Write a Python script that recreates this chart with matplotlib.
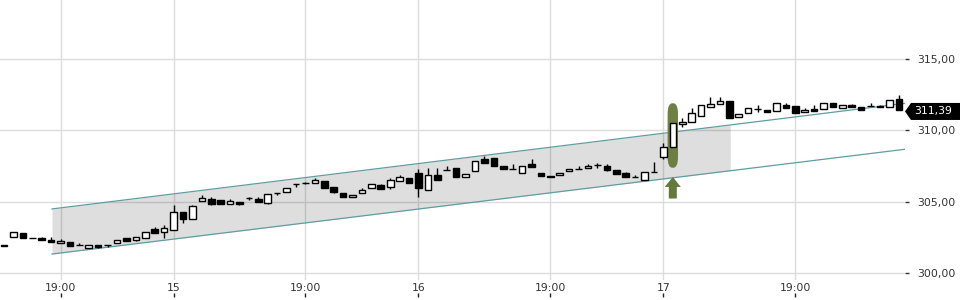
import matplotlib
matplotlib.use("Agg")
import matplotlib.pyplot as plt
from matplotlib.patches import Polygon, FancyBboxPatch, FancyArrow
from matplotlib.transforms import IdentityTransform
import numpy as np

# OHLC (one candle per slot)
opens = [301.96, 302.52, 302.78, 302.44, 302.47, 302.31, 302.08, 302.15, 301.97, 301.77,
         301.96, 301.94, 302.08, 302.43, 302.33, 302.43, 303.06, 302.89, 302.99, 304.30,
         303.81, 305.07, 305.21, 305.14, 304.86, 304.98, 305.24, 305.16, 304.93, 305.59,
         305.66, 306.24, 306.29, 306.29, 306.45, 306.05, 305.59, 305.31, 305.59, 305.94,
         306.15, 306.01, 306.43, 306.64, 306.99, 305.80, 306.87, 307.22, 307.34, 306.73,
         307.13, 307.99, 308.04, 307.52, 307.29, 306.99, 307.64, 307.01, 306.82, 306.85,
         307.13, 307.31, 307.34, 307.55, 307.50, 307.20, 307.03, 306.75, 306.52, 307.06,
         308.15, 308.81, 310.44, 310.60, 310.98, 311.61, 311.82, 312.03, 310.91, 311.19,
         311.52, 311.40, 311.37, 311.79, 311.68, 311.26, 311.49, 311.49, 311.89, 311.58,
         311.75, 311.63, 311.71, 311.72, 311.61, 312.19]
closes = [301.86, 302.87, 302.43, 302.42, 302.33, 302.19, 302.24, 301.91, 301.96, 301.94,
          301.80, 301.93, 302.29, 302.26, 302.50, 302.85, 302.82, 303.17, 304.30, 303.81,
          304.70, 305.28, 304.81, 304.84, 305.07, 304.86, 305.23, 304.95, 305.52, 305.58,
          305.98, 306.23, 306.28, 306.52, 305.94, 305.70, 305.31, 305.45, 305.80, 306.22,
          305.87, 306.50, 306.71, 306.29, 305.94, 306.85, 306.50, 307.21, 306.75, 306.92,
          307.83, 307.69, 307.52, 307.29, 307.28, 307.48, 307.41, 306.78, 306.71, 307.01,
          307.31, 307.30, 307.50, 307.54, 307.20, 306.96, 306.73, 306.74, 307.06, 307.05,
          308.85, 310.49, 310.58, 311.19, 311.77, 311.82, 312.03, 310.88, 311.14, 311.54,
          311.51, 311.30, 311.89, 311.58, 311.23, 311.40, 311.37, 311.93, 311.61, 311.77,
          311.65, 311.44, 311.70, 311.63, 312.12, 311.39]
highs = [301.96, 302.87, 302.78, 302.44, 302.52, 302.52, 302.38, 302.15, 302.10, 301.94,
         301.96, 301.94, 302.29, 302.43, 302.50, 302.85, 303.20, 303.36, 304.77, 304.30,
         304.77, 305.47, 305.30, 305.14, 305.16, 304.98, 305.35, 305.30, 305.52, 305.63,
         305.98, 306.24, 306.40, 306.64, 306.45, 306.05, 305.59, 305.45, 305.94, 306.22,
         306.26, 306.64, 306.87, 306.64, 307.27, 307.34, 307.34, 307.48, 307.34, 306.92,
         307.83, 308.20, 308.04, 307.52, 307.64, 307.48, 307.97, 307.01, 306.82, 307.01,
         307.31, 307.50, 307.62, 307.73, 307.62, 307.20, 307.10, 306.87, 307.06, 307.81,
         309.13, 310.49, 310.88, 311.54, 311.77, 312.31, 312.35, 312.03, 311.14, 311.54,
         311.77, 311.40, 311.89, 311.89, 311.68, 311.56, 311.79, 311.93, 311.89, 311.77,
         311.82, 311.63, 311.93, 311.77, 312.12, 312.45]
lows = [301.86, 302.52, 302.43, 302.42, 302.30, 302.19, 302.08, 301.91, 301.96, 301.77,
        301.72, 301.80, 302.08, 302.26, 302.24, 302.43, 302.82, 302.47, 302.99, 303.52,
        303.81, 305.07, 304.74, 304.84, 304.86, 304.79, 305.12, 304.95, 304.84, 305.47,
        305.66, 306.05, 306.24, 306.29, 305.94, 305.63, 305.31, 305.31, 305.59, 305.94,
        305.87, 305.89, 306.43, 306.29, 305.35, 305.80, 306.50, 307.21, 306.75, 306.73,
        307.13, 307.69, 307.52, 307.29, 307.28, 306.99, 307.41, 306.78, 306.71, 306.85,
        307.13, 307.30, 307.34, 307.34, 307.13, 306.96, 306.73, 306.74, 306.52, 307.05,
        307.97, 308.81, 310.21, 310.60, 310.98, 311.61, 311.82, 310.88, 310.91, 311.19,
        311.30, 311.30, 311.37, 311.58, 311.23, 311.26, 311.37, 311.49, 311.61, 311.58,
        311.65, 311.44, 311.70, 311.63, 311.61, 311.39]

tick_pos = [6, 18, 32, 44, 58, 70, 84]
tick_labels = ["19:00", "15", "19:00", "16", "19:00", "17", "19:00"]
price_ticks = [300, 305, 310, 315]

# trend channel
chan_x = [5.1, 95.65]
chan_upper = [304.49, 311.89]
chan_lower = [301.33, 308.67]
fill_end = 77.1

# signal marker
signal_idx = 71
signal_top = 311.77
signal_bottom = 307.50
arrow_tip = 306.73
arrow_base = 305.22

last_close = closes[-1]

fig = plt.figure(figsize=(9.6, 3.0), dpi=100)
ax = fig.add_axes([0, 20 / 300, 905 / 960, 280 / 300])
ax.set_xlim(-0.425, 95.65)
ax.set_ylim(299.51, 319.13)
for s in ax.spines.values():
    s.set_visible(False)
ax.grid(True, color="#dcdcdc", linewidth=1)
ax.set_axisbelow(True)

ax.set_xticks(tick_pos)
ax.set_xticklabels(tick_labels)
ax.tick_params(axis="x", length=0, pad=2, labelsize=7.8, labelcolor="#333333")
ax.set_yticks(price_ticks)
ax.set_yticklabels([f"{p:.2f}".replace(".", ",") for p in price_ticks])
ax.yaxis.tick_right()
ax.tick_params(axis="y", length=3, width=1, color="#333333", pad=6,
               labelsize=7.8, labelcolor="#333333")

sec = ax.secondary_xaxis(-17 / 280)
sec.set_xticks(tick_pos)
sec.tick_params(axis="x", direction="in", length=3, width=1, color="#222222", labelbottom=False)
sec.spines["bottom"].set_visible(False)

# channel
fx = np.linspace(chan_x[0], fill_end, 50)
ax.fill_between(fx, np.interp(fx, chan_x, chan_lower), np.interp(fx, chan_x, chan_upper),
                color="k", alpha=0.13, linewidth=0, zorder=1)
ax.plot(chan_x, chan_upper, color="#5e9ea3", linewidth=0.9, zorder=2)
ax.plot(chan_x, chan_lower, color="#5e9ea3", linewidth=0.9, zorder=2)

# signal highlight + arrow
hl = FancyBboxPatch((signal_idx - 0.3, signal_bottom + 0.25), 0.6, signal_top - signal_bottom - 0.5,
                    boxstyle="round,pad=0.25,rounding_size=0.5", mutation_aspect=1.5,
                    facecolor="#66793a", edgecolor="none", alpha=0.95, zorder=3)
ax.add_patch(hl)
ax.add_patch(FancyArrow(signal_idx, arrow_base, 0, arrow_tip - arrow_base, width=0.85,
                        head_width=1.7, head_length=0.7, length_includes_head=True,
                        facecolor="#66793a", edgecolor="none", zorder=3))

# candles
x = np.arange(len(opens))
o = np.array(opens)
c = np.array(closes)
up = c >= o
bottoms = np.minimum(o, c)
heights = np.maximum(np.abs(c - o), 0.005)
ax.vlines(x, lows, highs, color="black", linewidth=1, zorder=4)
ax.bar(x, heights, bottom=bottoms, width=0.7,
       color=np.where(up, "white", "black"), edgecolor="black", linewidth=1, zorder=5)

# last price tag
fig.canvas.draw()
xd, yd = ax.transData.transform((95.65, last_close))
yd -= 1
verts = [(905, yd), (911, yd + 8.5), (960, yd + 8.5), (960, yd - 8.5), (911, yd - 8.5)]
fig.add_artist(Polygon(verts, closed=True, transform=IdentityTransform(),
                       facecolor="black", edgecolor="none"))
fig.text(933 / 960, yd / 300, f"{last_close:.2f}".replace(".", ","), color="white",
         fontsize=7.8, ha="center", va="center")

fig.savefig("out.png", dpi=100)
